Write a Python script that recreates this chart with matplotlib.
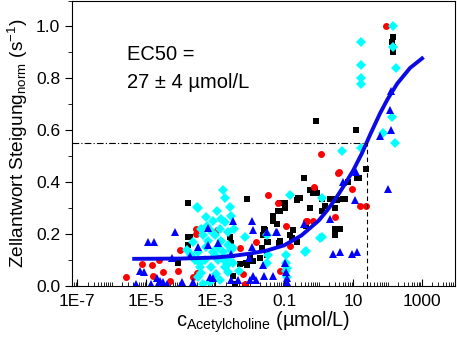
import numpy as np
import matplotlib.pyplot as plt
from matplotlib.ticker import LogLocator, FixedLocator, FixedFormatter, MultipleLocator, NullFormatter

plt.rcParams['font.family'] = ['Liberation Sans', 'DejaVu Sans']
plt.rcParams['mathtext.fontset'] = 'custom'
plt.rcParams['mathtext.rm'] = 'Liberation Sans'
plt.rcParams['mathtext.it'] = 'Liberation Sans:italic'

# data: log10 of concentration (umol/L) and normalised slope
black_logc = [2.16, 2.13, 2.16, 2.15, -0.07, 1.09, 1.38, 1.17, 1.12, 0.86,
              0.10, 0.33, 0.48, 0.71, 0.19, 0.10, 0.48, 0.48, 0.62, 0.48,
              -0.42, -0.25, -0.10, -0.62, -0.54, -0.97, -1.12, -0.97, -1.32, -1.32,
              -0.74, -0.25, -1.58, -0.36, -0.77, -0.62, -1.49, -1.64, -1.15, -1.49,
              -0.16, -0.04, 0.54, 0.77, -2.07, -3.78, -3.78, -3.78, -4.07, -3.72,
              -2.57, -2.54, -2.28, -2.10, -1.90, -1.70, -2.48, -2.42, -1.99, -2.07,
              -1.55, -1.61, -1.46, -1.12, -0.83, -0.59, -1.12, -1.17, -3.43, -1.20]
black_y = [0.96, 0.94, 0.90, 0.92, 0.635, 0.60, 0.45, 0.415, 0.415, 0.40,
           0.335, 0.335, 0.335, 0.335, 0.31, 0.29, 0.30, 0.22, 0.22, 0.195,
           0.415, 0.37, 0.37, 0.33, 0.34, 0.32, 0.29, 0.30, 0.27, 0.25,
           0.215, 0.30, 0.22, 0.23, 0.185, 0.17, 0.17, 0.145, 0.165, 0.12,
           0.36, 0.36, 0.33, 0.335, 0.335, 0.32, 0.19, 0.16, 0.09, 0.19,
           0.19, 0.165, 0.085, 0.09, 0.095, 0.11, 0.04, 0.01, 0.11, 0.08,
           0.215, 0.195, 0.17, 0.175, 0.195, 0.34, 0.32, 0.29, 0.05, 0.24]

red_logc = [1.96, 0.07, 0.59, 0.97, 1.20, 1.38, 0.48, -0.13, -1.46, -1.17,
            -0.94, -0.36, -0.16, -0.83, -1.12, -1.81, -2.28, -3.55, -3.55, -4.01,
            -4.62, -5.12, -4.83, -5.58, -4.80, -4.51, -4.30, -4.07, -2.19, -2.13,
            -2.94, -0.33, -3.64, -3.52, 0.57]
red_y = [1.0, 0.51, 0.44, 0.375, 0.31, 0.31, 0.265, 0.38, 0.35, 0.32,
         0.23, 0.25, 0.25, 0.155, 0.06, 0.17, 0.145, 0.22, 0.20, 0.14,
         0.10, 0.085, 0.08, 0.035, 0.04, 0.055, 0.02, 0.06, 0.045, 0.01,
         0.215, 0.25, 0.035, 0.05, 0.435]

blue_logc = [2.10, 2.07, 1.78, 2.10, 2.01, 1.09, 0.71, 1.06, 0.33, 0.42,
             0.62, 0.97, 1.12, -0.42, -1.23, -1.49, -1.61, -1.32, -1.58, -0.94,
             -0.91, -0.91, -1.93, -1.90, -1.20, -0.97, -1.90, -3.20, -3.49, -3.20,
             -2.54, -2.02, -3.14, -3.05, -2.54, -2.33, -1.99, -1.81, -3.64, -4.16,
             -4.94, -4.77, -4.25, -5.17, -5.06, -4.68, -4.59, -4.51, -5.29, -4.85,
             -4.65, -4.40, -3.96, -3.72, -2.48, -2.91, -1.93]
blue_y = [0.75, 0.68, 0.58, 0.60, 0.375, 0.44, 0.40, 0.33, 0.26, 0.125,
          0.13, 0.125, 0.13, 0.24, 0.21, 0.21, 0.08, 0.04, 0.04, 0.055,
          0.015, 0.03, 0.25, 0.215, 0.21, 0.09, 0.04, 0.225, 0.15, 0.16,
          0.125, 0.11, 0.035, 0.03, 0.025, 0.025, 0.025, 0.025, 0.015, 0.21,
          0.17, 0.17, 0.11, 0.06, 0.055, 0.03, 0.02, 0.015, 0.01, 0.01,
          0.01, 0.01, 0.015, 0.115, 0.25, 0.165, 0.15]

cyan_logc = [1.23, 1.23, 1.23, 1.23, 2.16, 2.16, 2.25, 2.13, 1.87, 2.22,
             0.68, 1.23, 0.10, 0.10, -0.83, -1.49, -0.39, -0.94, -0.94, -0.94,
             0.04, -0.36, -1.46, -1.49, -0.91, -0.91,
             -2.77, -2.71, -3.49, -2.57, -2.54, -3.26, -3.06, -2.83, -2.71, -3.41,
             -3.14, -2.86, -3.35, -3.00, -2.62, -2.13, -3.64, -3.20, -2.83, -3.26,
             -2.91, -2.62, -3.49, -3.06, -2.77, -2.54, -3.58, -3.29, -2.91, -2.62,
             -3.43, -3.12, -2.71, -3.41, -2.97, -2.62, -2.86, -3.14, -3.35, -3.52,
             -3.81, -3.43, -3.49, -2.48, -2.48, -3.00, -2.75, -2.45, -3.70, -2.30,
             -2.95, -3.25, -2.65]
cyan_y = [0.94, 0.85, 0.80, 0.78, 1.0, 0.92, 0.84, 0.65, 0.59, 0.55,
          0.52, 0.53, 0.34, 0.19, 0.35, 0.195, 0.13, 0.12, 0.09, 0.06,
          0.185, 0.135, 0.12, 0.09, 0.07, 0.035,
          0.37, 0.34, 0.30, 0.305, 0.27, 0.265, 0.25, 0.26, 0.245, 0.22,
          0.215, 0.22, 0.195, 0.195, 0.21, 0.19, 0.17, 0.175, 0.175, 0.15,
          0.15, 0.16, 0.13, 0.13, 0.13, 0.14, 0.10, 0.10, 0.10, 0.11,
          0.075, 0.075, 0.075, 0.05, 0.045, 0.055, 0.025, 0.015, 0.01, 0.305,
          0.14, 0.09, 0.035, 0.145, 0.09, 0.12, 0.10, 0.22, 0.12, 0.06,
          0.29, 0.23, 0.08]

# fitted dose-response curve, read along its length
fit_logc = [-5.35, -4.0, -3.0, -2.5, -2.0, -1.5, -1.0, -0.5, 0.0, 0.25,
            0.5, 0.75, 1.0, 1.25, 1.5, 1.78, 2.0, 2.28, 2.65, 3.0]
fit_y = [0.105, 0.106, 0.11, 0.116, 0.125, 0.137, 0.157, 0.195, 0.252, 0.292,
         0.338, 0.39, 0.445, 0.51, 0.585, 0.665, 0.72, 0.78, 0.84, 0.877]

ec50 = 25
half_level = 0.55

fig = plt.figure(figsize=(4.57, 3.41), dpi=100)
ax = fig.add_axes([0.1575, 0.161, 0.838, 0.8375])

ax.plot(10 ** np.array(black_logc), black_y, 's', color='black', ms=4.6, mew=0)
ax.plot(10 ** np.array(red_logc), red_y, 'o', color='#ff0000', ms=5, mew=0)
ax.plot(10 ** np.array(cyan_logc), cyan_y, 'D', color='#00ffff', ms=5.2, mew=0)
ax.plot(10 ** np.array(blue_logc), blue_y, '^', color='#0000ff', ms=5.6, mew=0)
ax.plot(10 ** np.array(fit_logc), fit_y, '-', color='#0a0ae6', lw=2.8,
        solid_joinstyle='round')

ax.plot([7e-8, ec50], [half_level, half_level], color='black', lw=0.8,
        ls=(0, (6, 2, 1, 2)))
ax.plot([ec50, ec50], [0, half_level], color='black', lw=0.8, ls=(0, (4, 3)))

ax.set_xscale('log')
ax.set_xlim(7e-8, 9e3)
ax.set_ylim(0, 1.1)

major = [1e-7, 1e-5, 1e-3, 0.1, 10, 1000]
ax.xaxis.set_major_locator(FixedLocator(major))
ax.xaxis.set_major_formatter(FixedFormatter(['1E-7', '1E-5', '1E-3', '0.1', '10', '1000']))
ax.xaxis.set_minor_locator(LogLocator(base=10, subs=np.arange(1, 10), numticks=50))
ax.xaxis.set_minor_formatter(NullFormatter())
ax.yaxis.set_major_locator(MultipleLocator(0.2))
ax.yaxis.set_minor_locator(MultipleLocator(0.1))
ax.yaxis.set_major_formatter(plt.FuncFormatter(lambda v, p: f'{v:.1f}'))

ax.tick_params(axis='x', which='both', direction='in', labelsize=12.5, pad=6)
ax.tick_params(axis='x', which='major', length=5)
ax.tick_params(axis='x', which='minor', length=3)
ax.tick_params(axis='y', which='both', direction='out', labelsize=12.5)
ax.tick_params(axis='y', which='major', length=5)
ax.tick_params(axis='y', which='minor', length=3)

ax.set_xlabel(r'$\mathregular{c_{Acetylcholine}}$ (µmol/L)', fontsize=14.5, labelpad=0)
ax.set_ylabel(r'Zellantwort Steigung$\mathregular{_{norm}}$ (s$\mathregular{^{-1}}$)',
              fontsize=13.8, labelpad=4)

ax.text(0.144, 0.79, 'EC50 =', transform=ax.transAxes, fontsize=14.5)
ax.text(0.144, 0.695, '27 ± 4 µmol/L', transform=ax.transAxes, fontsize=14.5)

fig.savefig('out.png', dpi=100)
